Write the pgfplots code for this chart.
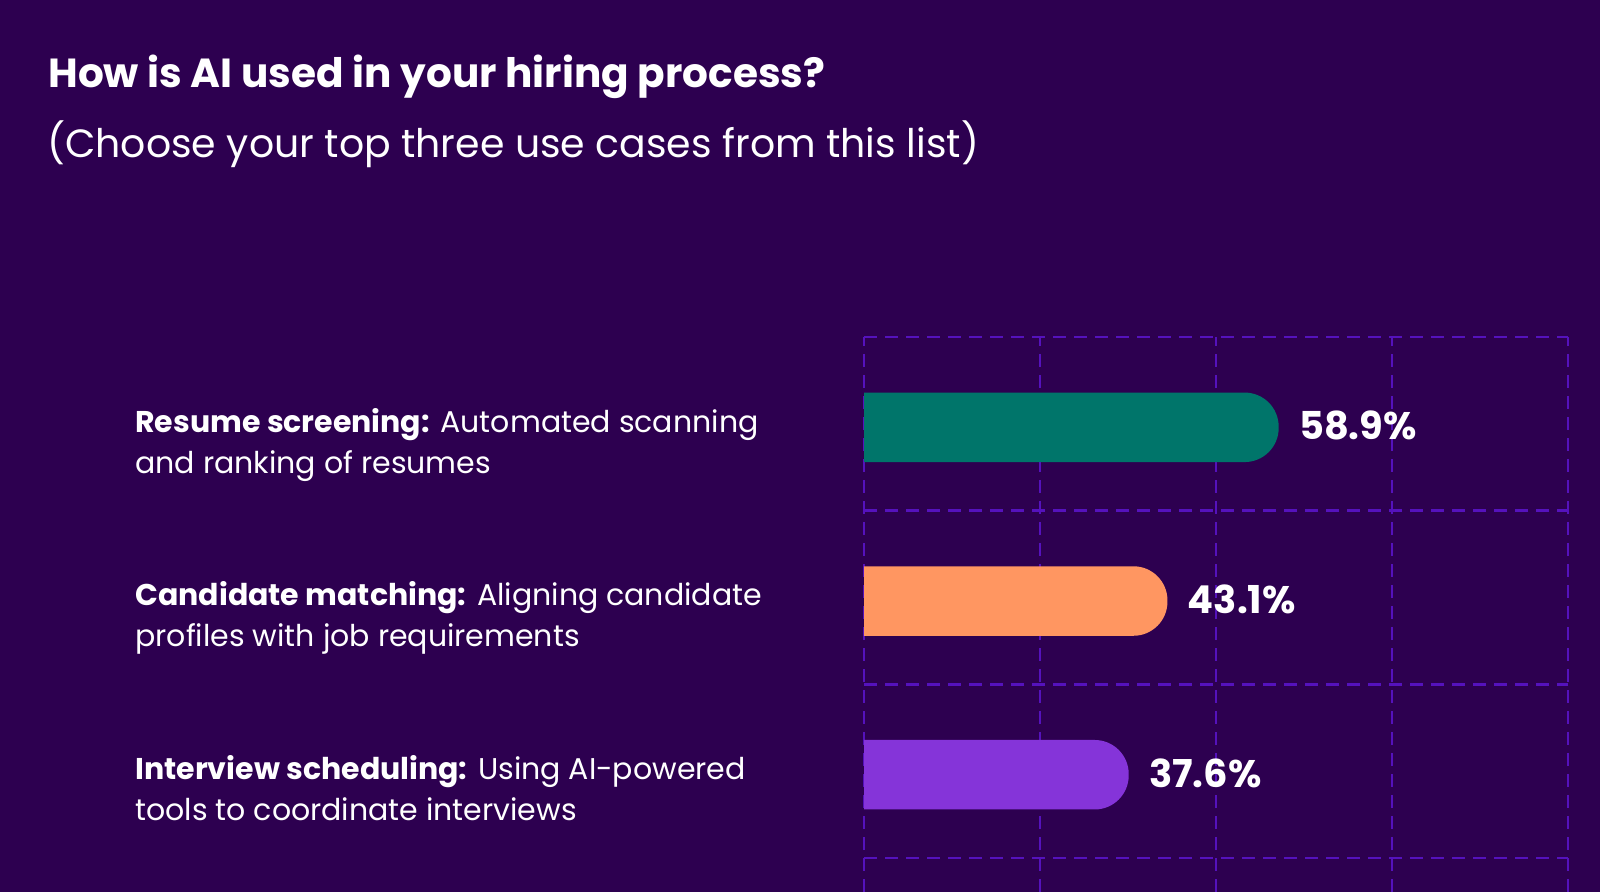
\documentclass[border=0pt]{standalone}
\usepackage{fontspec}
\setmainfont{Poppins}
\usepackage{pgfplots}
\pgfplotsset{compat=1.18}

\definecolor{bg}{HTML}{2D0050}
\definecolor{gridc}{HTML}{5512BC}
\definecolor{teal}{HTML}{00756A}
\definecolor{peach}{HTML}{FF9661}
\definecolor{violet}{HTML}{8534D9}

\begin{document}
\begin{tikzpicture}
\fill[bg] (0pt,0pt) rectangle (800pt,446pt);
\useasboundingbox (0pt,0pt) rectangle (800pt,446pt);

% title block
\node[anchor=base west, inner sep=0, text=white, font=\fontsize{20.3}{25}\selectfont\bfseries] at (24pt,402pt) {How is AI used in your hiring process?};
\node[anchor=base west, inner sep=0, text=white, font=\fontsize{19.7}{24}\selectfont] at (23.5pt,367pt) {(Choose your top three use cases from this list)};

% category labels
\begin{scope}[every node/.style={anchor=base west, inner sep=0, text=white, font=\fontsize{15}{19}\selectfont}]
\node at (67.5pt,229.5pt) {\textbf{Resume screening:} Automated scanning};
\node at (67.5pt,209pt) {and ranking of resumes};
\node at (67.5pt,143pt) {\textbf{Candidate matching:} Aligning candidate};
\node at (67.5pt,122.5pt) {profiles with job requirements};
\node at (67.5pt,56pt) {\textbf{Interview scheduling:} Using AI-powered};
\node at (67.5pt,35.5pt) {tools to coordinate interviews};
\end{scope}

\begin{axis}[
    at={(432pt,0pt)}, anchor=south west,
    scale only axis, width=352pt, height=277.5pt,
    xmin=0, xmax=100, ymin=-0.195, ymax=3,
    xtick={0,25,50,75,100}, ytick={0,1,2,3},
    xticklabels={}, yticklabels={},
    major tick length=0pt,
    axis line style={draw=none},
    grid=major,
    major grid style={draw=gridc, line width=1.3pt, dash pattern=on 6.5pt off 4pt},
    clip=true,
]
\addplot[fill=teal, draw=none, rounded corners=17pt] coordinates {(-20,2.28) (58.9,2.28) (58.9,2.68) (-20,2.68)};
\addplot[fill=peach, draw=none, rounded corners=17pt] coordinates {(-20,1.28) (43.1,1.28) (43.1,1.68) (-20,1.68)};
\addplot[fill=violet, draw=none, rounded corners=17pt] coordinates {(-20,0.28) (37.6,0.28) (37.6,0.68) (-20,0.68)};
\begin{scope}[every node/.style={anchor=west, inner sep=0, xshift=10pt, text=white, font=\fontsize{19.2}{23}\selectfont\bfseries}]
\node at (axis cs:58.9,2.49) {58.9\%};
\node at (axis cs:43.1,1.49) {43.1\%};
\node at (axis cs:37.6,0.49) {37.6\%};
\end{scope}
\end{axis}
\end{tikzpicture}
\end{document}
